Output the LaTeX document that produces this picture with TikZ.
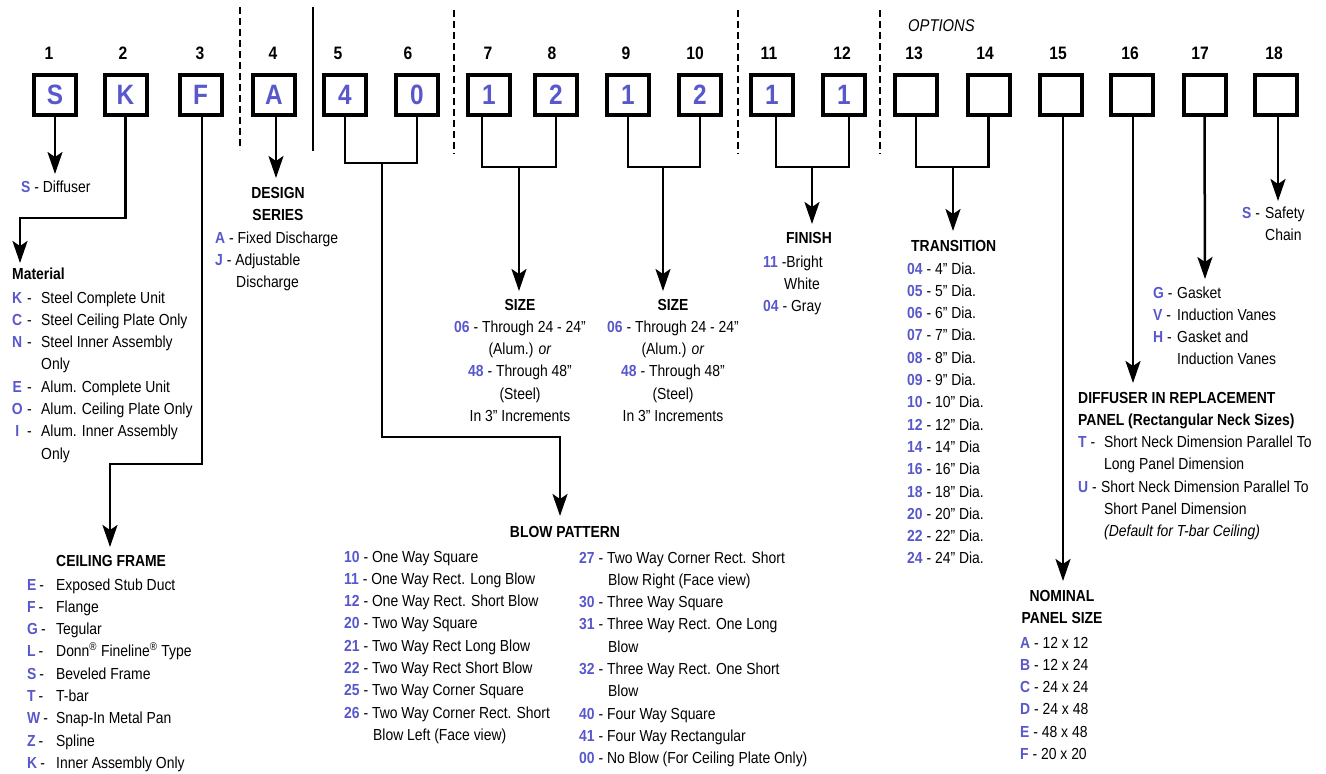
\documentclass[tikz,border=0pt]{standalone}
\usepackage{fontspec}
\setmainfont[FakeStretch=0.87]{Liberation Sans}
\usetikzlibrary{arrows.meta}
\definecolor{blu}{RGB}{88,88,204}
\newcommand\bl[1]{\textcolor{blu}{\textbf{#1}}}
\newcommand\tb[1]{\begin{tabular}[t]{@{}l@{}}#1\end{tabular}}
\newcommand\tcn[1]{\begin{tabular}[t]{@{}c@{}}#1\end{tabular}}
\newcommand\matl[2]{\makebox[30pt][l]{\makebox[12pt][c]{\bl{#1}}\hspace{4pt}-}#2}
\newcommand\cfr[2]{\makebox[29pt][l]{\bl{#1}\hspace{3pt}-}#2}
\tikzset{arrtip/.tip={Stealth[length=22pt,width=15pt,inset=5pt]}}
\begin{document}
\begin{tikzpicture}[x=1pt,y=-1pt,
  box/.style={draw, line width=4pt, minimum width=42pt, minimum height=40pt, inner sep=0pt, text=blu, font=\fontsize{28}{30}\selectfont\bfseries},
  num/.style={font=\fontsize{18}{20}\selectfont\bfseries, anchor=base, inner sep=0pt},
  conn/.style={line width=2.5pt},
  arr/.style={line width=2.5pt, -arrtip},
  sepline/.style={line width=2.5pt, dash pattern=on 7pt off 4pt},
  txt/.style={font=\fontsize{16}{22.3}\selectfont, inner sep=0pt, anchor=base west},
  ctxt/.style={txt, anchor=base},
]
\useasboundingbox (0,0) rectangle (1326,774);

% separators
\draw[sepline] (240,7) -- (240,150);
\draw[line width=2.5pt] (313,7) -- (313,151);
\draw[sepline] (454,10) -- (454,154);
\draw[sepline] (738,10) -- (738,154);
\draw[sepline] (880,10) -- (880,154);

\node[txt, font=\fontsize{17}{20}\selectfont\itshape] (opt) at (908,31) {OPTIONS};

% numbers
\foreach \n/\x in {1/49,2/123,3/200,4/273,5/338,6/408,7/488,8/552,9/626,10/695,11/769,12/842,13/914,14/985,15/1058,16/1130,17/1200,18/1274}
  \node[num] (n\n) at (\x,59) {\n};

% boxes
\node[box] (b1) at (55,95) {S};
\node[box] (b2) at (125.5,95) {K};
\node[box] (b3) at (200.5,95) {F};
\node[box] (b4) at (274,95) {A};
\node[box] (b5) at (345,95) {4};
\node[box] (b6) at (417,95) {0};
\node[box] (b7) at (489,95) {1};
\node[box] (b8) at (556,95) {2};
\node[box] (b9) at (628,95) {1};
\node[box] (b10) at (700,95) {2};
\node[box] (b11) at (772,95) {1};
\node[box] (b12) at (844,95) {1};
\node[box] (b13) at (916,95) {};
\node[box] (b14) at (988.5,95) {};
\node[box] (b15) at (1060.5,95) {};
\node[box] (b16) at (1132,95) {};
\node[box] (b17) at (1204.5,95) {};
\node[box] (b18) at (1276,95) {};

% coordinates
\coordinate (tS) at (55,174);
\coordinate (tM) at (20,263);
\coordinate (tC) at (110,547);
\coordinate (tD) at (276,178);
\coordinate (j56) at (382,163);
\coordinate (tB) at (560,516);
\coordinate (j78) at (519,167);
\coordinate (tS1) at (519,291);
\coordinate (j910) at (663,167);
\coordinate (tS2) at (663,291);
\coordinate (j1112) at (812,167);
\coordinate (tF) at (812,224);
\coordinate (j1314) at (953,167);
\coordinate (tT) at (953,231);
\coordinate (tN) at (1063,581);
\coordinate (tR) at (1133,383);
\coordinate (tG) at (1205,279);
\coordinate (tSC) at (1278,201);

% connectors
\draw[arr] (b1.south) -- (tS);
\draw[arr] (b2.south) |- (20,218) -- (tM);
\draw[arr] ([xshift=1.5pt]b3.south) |- (110,464) -- (tC);
\draw[arr] ([xshift=2pt]b4.south) -- (tD);
\draw[conn] (b5.south) |- (j56) -| (b6.south);
\draw[arr] (j56) -- (382,437) -- (560,437) -- (tB);
\draw[conn] ([xshift=-7pt]b7.south) |- (j78) -| (b8.south);
\draw[arr] (j78) -- (tS1);
\draw[conn] (b9.south) |- (j910) -| (b10.south);
\draw[arr] (j910) -- (tS2);
\draw[conn] ([xshift=4pt]b11.south) |- (j1112) -| ([xshift=5pt]b12.south);
\draw[arr] (j1112) -- (tF);
\draw[conn] (b13.south) |- (j1314) -| (b14.south);
\draw[arr] (j1314) -- (tT);
\draw[arr] ([xshift=2.5pt]b15.south) -- (tN);
\draw[arr] ([xshift=1pt]b16.south) -- (tR);
\draw[arr] (b17.south) -- (tG);
\draw[arr] ([xshift=2pt]b18.south) -- (tSC);

% texts
\node[txt] (diff) at (21,192) {\bl{S} - Diffuser};

\node[txt] (matT) at (12,279) {\textbf{Material}};
\node[txt] (mat) at (11,303) {\tb{\matl{K}{Steel Complete Unit}\\
\matl{C}{Steel Ceiling Plate Only}\\
\matl{N}{Steel Inner Assembly}\\
\hspace*{30pt}Only\\
\matl{E}{Alum. Complete Unit}\\
\matl{O}{Alum. Ceiling Plate Only}\\
\matl{I}{Alum. Inner Assembly}\\
\hspace*{30pt}Only}};

\node[ctxt] (desT) at (278,198) {\tcn{\textbf{DESIGN}\\ \textbf{SERIES}}};
\node[txt] (des) at (215,243) {\tb{\bl{A} - Fixed Discharge\\
\bl{J} - Adjustable\\
\hspace*{21pt}Discharge}};

\node[txt] (cfT) at (56,566) {\textbf{CEILING FRAME}};
\node[txt] (cf) at (27,590) {\tb{\cfr{E}{Exposed Stub Duct}\\
\cfr{F}{Flange}\\
\cfr{G}{Tegular}\\
\cfr{L}{Donn\textsuperscript{®} Fineline\textsuperscript{®} Type}\\
\cfr{S}{Beveled Frame}\\
\cfr{T}{T-bar}\\
\cfr{W}{Snap-In Metal Pan}\\
\cfr{Z}{Spline}\\
\cfr{K}{Inner Assembly Only}}};

\node[ctxt] (size1) at (520,310) {\tcn{\textbf{SIZE}\\
\bl{06} - Through 24 - 24”\\
(Alum.) \textit{or}\\
\bl{48} - Through 48”\\
(Steel)\\
In 3” Increments}};
\node[ctxt] (size2) at (673,310) {\tcn{\textbf{SIZE}\\
\bl{06} - Through 24 - 24”\\
(Alum.) \textit{or}\\
\bl{48} - Through 48”\\
(Steel)\\
In 3” Increments}};

\node[ctxt] (bpT) at (565,537) {\textbf{BLOW PATTERN}};
\node[txt] (bpL) at (344,562) {\tb{\bl{10} - One Way Square\\
\bl{11} - One Way Rect. Long Blow\\
\bl{12} - One Way Rect. Short Blow\\
\bl{20} - Two Way Square\\
\bl{21} - Two Way Rect Long Blow\\
\bl{22} - Two Way Rect Short Blow\\
\bl{25} - Two Way Corner Square\\
\bl{26} - Two Way Corner Rect. Short\\
\hspace*{29pt}Blow Left (Face view)}};
\node[txt] (bpR) at (579,563) {\tb{\bl{27} - Two Way Corner Rect. Short\\
\hspace*{29pt}Blow Right (Face view)\\
\bl{30} - Three Way Square\\
\bl{31} - Three Way Rect. One Long\\
\hspace*{29pt}Blow\\
\bl{32} - Three Way Rect. One Short\\
\hspace*{29pt}Blow\\
\bl{40} - Four Way Square\\
\bl{41} - Four Way Rectangular\\
\bl{00} - No Blow (For Ceiling Plate Only)}};

\node[ctxt] (finT) at (809,243) {\textbf{FINISH}};
\node[txt] (fin) at (763,267) {\tb{\bl{11} -Bright\\
\hspace*{21pt}White\\
\bl{04} - Gray}};

\node[txt] (trT) at (911,251) {\textbf{TRANSITION}};
\node[txt] (tr) at (907,274) {\tb{\bl{04} - 4” Dia.\\
\bl{05} - 5” Dia.\\
\bl{06} - 6” Dia.\\
\bl{07} - 7” Dia.\\
\bl{08} - 8” Dia.\\
\bl{09} - 9” Dia.\\
\bl{10} - 10” Dia.\\
\bl{12} - 12” Dia.\\
\bl{14} - 14” Dia\\
\bl{16} - 16” Dia\\
\bl{18} - 18” Dia.\\
\bl{20} - 20” Dia.\\
\bl{22} - 22” Dia.\\
\bl{24} - 24” Dia.}};

\node[txt] (gk) at (1153,298) {\tb{\makebox[24pt][l]{\bl{G} -}Gasket\\
\makebox[24pt][l]{\bl{V} -}Induction Vanes\\
\makebox[24pt][l]{\bl{H} -}Gasket and\\
\hspace*{24pt}Induction Vanes}};

\node[txt] (rp) at (1078,403) {\tb{\textbf{DIFFUSER IN REPLACEMENT}\\
\textbf{PANEL (Rectangular Neck Sizes)}\\
\makebox[26pt][l]{\bl{T} -}Short Neck Dimension Parallel To\\
\hspace*{26pt}Long Panel Dimension\\
\makebox[23pt][l]{\bl{U} -}Short Neck Dimension Parallel To\\
\hspace*{26pt}Short Panel Dimension\\
\hspace*{26pt}\textit{(Default for T-bar Ceiling)}}};

\node[ctxt] (npT) at (1062,601) {\tcn{\textbf{NOMINAL}\\ \textbf{PANEL SIZE}}};
\node[txt] (np) at (1020,648) {\tb{\bl{A} - 12 x 12\\
\bl{B} - 12 x 24\\
\bl{C} - 24 x 24\\
\bl{D} - 24 x 48\\
\bl{E} - 48 x 48\\
\bl{F} - 20 x 20}};

\node[txt] (sc) at (1242,218) {\tb{\makebox[23pt][l]{\bl{S} -}Safety\\
\hspace*{23pt}Chain}};
\end{tikzpicture}
\end{document}
